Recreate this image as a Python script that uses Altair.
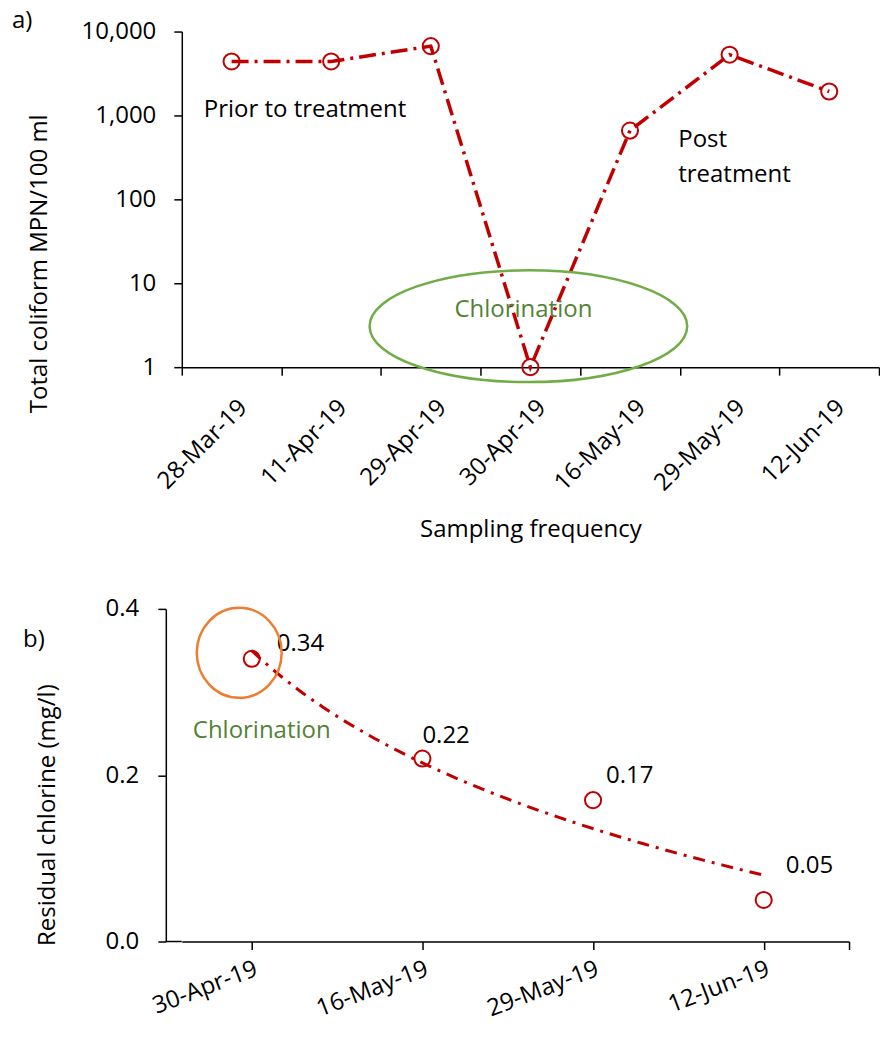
import json
import altair as alt
import pandas as pd

# ---------------- data ----------------
dates_a = ["28-Mar-19", "11-Apr-19", "29-Apr-19", "30-Apr-19", "16-May-19", "29-May-19", "12-Jun-19"]
coliform = [4400, 4400, 6700, 1, 660, 5300, 1930]

dates_b = ["30-Apr-19", "16-May-19", "29-May-19", "12-Jun-19"]
chlorine = [0.34, 0.22, 0.17, 0.05]

log_ticks = [1, 10, 100, 1000, 10000]
chl_ticks = [0, 0.2, 0.4]

# ---------------- styles ----------------
RED = "#C00000"
GREEN_LINE = "#70AD47"
GREEN_TEXT = "#548235"
ORANGE = "#ED7D31"
FONT = "Open Sans"
FS = 24

WA, HA = 698, 336
WB, HB = 668, 333
B_SHIFT = 16  # panel b's y axis sits 16 px left of panel a's

df_a = pd.DataFrame({"date": dates_a, "coliform": coliform})
df_b = pd.DataFrame({"date": dates_b,
                     "idx": list(range(1, len(dates_b) + 1)),
                     "chlorine": chlorine})

one = alt.Data(values=[{}])


def text_layer(txt, x, y, color="black", align="left", baseline="alphabetic", size=FS, **kw):
    return alt.Chart(one).mark_text(text=txt, font=FONT, fontSize=size, color=color,
                                    align=align, baseline=baseline, **kw).encode(
        x=alt.value(x), y=alt.value(y))


def ellipse_path(rx, ry):
    return f"M {-rx} 0 A {rx} {ry} 0 1 0 {rx} 0 A {rx} {ry} 0 1 0 {-rx} 0 Z"


# ---------------- panel a ----------------
x_a = alt.X("date:N", sort=dates_a,
            scale=alt.Scale(type="band", paddingInner=0, paddingOuter=0),
            axis=alt.Axis(title="Sampling frequency", labelAngle=-45, tickBand="extent",
                          tickSize=8, labelPadding=20, labelOffset=3,
                          titleY=170, titleBaseline="alphabetic"))
y_a = alt.Y("coliform:Q", scale=alt.Scale(type="log", domain=[1, 10000]),
            axis=alt.Axis(values=log_ticks, format=",", tickSize=8, labelPadding=18,
                          title="Total coliform MPN/100 ml", titleX=-135, titleY=232,
                          titleBaseline="alphabetic", grid=False))

base_a = alt.Chart(df_a).encode(x=x_a, y=y_a)
line_a = base_a.mark_line(color=RED, strokeWidth=3.5, strokeDash=[17, 6, 3, 6])
pts_a = base_a.mark_point(shape="circle", size=260, filled=False, color=RED, strokeWidth=2, opacity=1)

ellipse_a = alt.Chart(one).mark_point(shape=ellipse_path(1, 0.352), size=318 ** 2, filled=False,
                                      color=GREEN_LINE, strokeWidth=2.5, opacity=1).encode(
    x=alt.value(347), y=alt.value(295))

panel_a = alt.layer(
    line_a, pts_a, ellipse_a,
    text_layer("a)", -170, -4),
    text_layer("Prior to treatment", 22, 86),
    text_layer("Post\ntreatment", 497, 116, lineBreak="\n", lineHeight=35),
    text_layer("Chlorination", 342, 286, color=GREEN_TEXT, align="center"),
).properties(width=WA, height=HA)

# ---------------- panel b ----------------
label_expr = f"{json.dumps(dates_b)}[datum.value - 1] || ''"
x_b = alt.X("idx:Q", scale=alt.Scale(domain=[0.59, len(dates_b) + 0.5], nice=False, zero=False),
            axis=alt.Axis(values=[1, 2, 3, 4, 4.5], labelExpr=label_expr, labelAngle=-21,
                          tickSize=8, labelPadding=7, grid=False, title=None))
y_b = alt.Y("chlorine:Q", scale=alt.Scale(domain=[0, 0.4], nice=False),
            axis=alt.Axis(values=chl_ticks, format=".1f", tickSize=8, labelPadding=19, grid=False,
                          offset=B_SHIFT,
                          title="Residual chlorine  (mg/l)", titleX=-111, titleY=206,
                          titleBaseline="alphabetic"))

base_b = alt.Chart(df_b).encode(x=x_b, y=y_b)
trend_b = base_b.transform_regression("idx", "chlorine", method="log").mark_line(
    color=RED, strokeWidth=3, strokeDash=[12, 7, 3, 7])
pts_b = base_b.mark_point(shape="circle", size=260, filled=False, color=RED, strokeWidth=2, opacity=1)

label_offsets = [(25, -15), (0, -23), (13, -24), (22, -34)]
labels_b = [
    base_b.transform_filter(alt.datum.idx == i + 1).mark_text(
        font=FONT, fontSize=FS, align="left", baseline="middle", dx=dx, dy=dy, color="black"
    ).encode(text=alt.Text("chlorine:Q", format=".2f"))
    for i, (dx, dy) in enumerate(label_offsets)
]

# continuation of the x-axis line up to the offset y axis
axis_ext = alt.Chart(one).mark_rule(color="black", strokeWidth=1.5).encode(
    x=alt.value(-B_SHIFT), x2=alt.value(0), y=alt.value(HB))

circle_b = alt.Chart(one).mark_point(shape=ellipse_path(1, 1.06), size=85 ** 2, filled=False,
                                     color=ORANGE, strokeWidth=2.5, opacity=1).encode(
    x=alt.value(57.5), y=alt.value(44))

panel_b = alt.layer(
    trend_b, pts_b, *labels_b, axis_ext, circle_b,
    text_layer("b)", -159, 38),
    text_layer("Chlorination", 80, 129, color=GREEN_TEXT, align="center"),
).properties(width=WB, height=HB)

chart = alt.vconcat(panel_a, panel_b, spacing=55).properties(
    padding={"left": 12, "top": 8, "right": 0, "bottom": 0},
    background="white",
).configure_view(stroke=None).configure_axis(
    labelFont=FONT, labelFontSize=FS, labelColor="black",
    titleFont=FONT, titleFontSize=FS, titleFontWeight="normal", titleColor="black",
    domainColor="black", domainWidth=1.5, tickColor="black", tickWidth=1.5,
)

chart.save("out.html", embed_options={"renderer": "svg", "actions": False})
